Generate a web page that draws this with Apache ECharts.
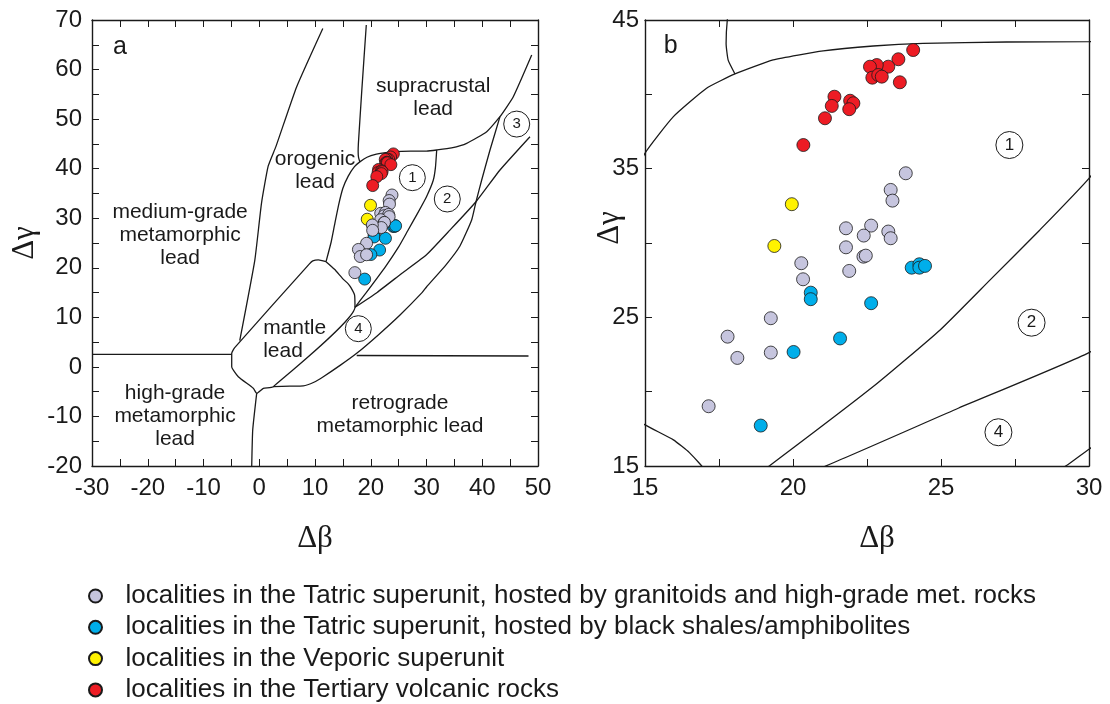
<!DOCTYPE html>
<html><head><meta charset="utf-8">
<script src="https://cdn.jsdelivr.net/npm/echarts@6/dist/echarts.min.js"></script>
<style>html,body{margin:0;padding:0;background:#fff}#c{width:1110px;height:704px}</style>
</head><body><div id="c"></div>
<script>
// ---------- data: sample points (Δβ, Δγ) ----------
const tatricGranitoids = [[23.81,34.69],[23.30,33.57],[23.36,32.85],[21.79,30.99],[22.64,31.17],[22.39,30.50],[23.22,30.77],[23.30,30.32],[21.79,29.71],[22.38,29.08],[22.46,29.15],[21.90,28.12],[20.28,28.64],[20.34,27.56],[19.25,24.94],[17.79,23.70],[18.12,22.27],[19.25,22.63],[17.15,19.02]];
const tatricShales = [[24.01,28.34],[24.27,28.57],[24.27,28.34],[24.46,28.46],[20.60,26.66],[20.60,26.22],[22.64,25.95],[21.59,23.58],[20.02,22.67],[18.91,17.72]];
const veporic = [[19.96,32.61],[19.37,29.80]];
const tertiaryVolcanic = [[24.06,42.98],[23.56,42.36],[23.22,41.86],[22.83,41.97],[22.60,41.86],[22.68,41.12],[22.88,41.30],[23.00,41.19],[23.61,40.81],[21.40,39.84],[21.31,39.22],[21.93,39.57],[22.04,39.40],[21.90,39.00],[21.08,38.39],[20.35,36.59]];

const seriesNames = [
  'localities in the Tatric superunit, hosted by granitoids and high-grade met. rocks',
  'localities in the Tatric superunit, hosted by black shales/amphibolites',
  'localities in the Veporic superunit',
  'localities in the Tertiary volcanic rocks'
];

// ---------- data: field boundaries of the discrimination diagram (Δβ, Δγ) ----------
const lineMediumOrogenic = [[11.4,68.3],[6.7,56.5],[3.0,44.5],[1.6,40.5],[0.4,33.0],[-0.8,21.5],[-3.5,5.3]];
const lineOrogenicSupracrustal = [[19.2,69.0],[18.4,55.9],[17.78,45.0],[17.74,43.4],[17.81,42.3],[18.04,41.37]];
const lineUpper = [[11.98,21.23],[12.9,25.2],[13.5,28.6],[14.2,32.5],[15.0,36.04],[15.96,38.5],[17.08,40.41],[18.04,41.37],[19.33,42.31],[21.02,42.92],[22.71,43.25],[24.4,43.43],[27.21,43.52],[30.0,43.54],[31.83,43.77],[34.5,44.2],[37.21,45.12],[40.8,47.46],[43.18,50.49],[45.57,54.52],[48.87,62.93]];
const mantleBox = [[11.98,21.23],[10.6,21.6],[9.6,21.4],[9.0,20.8],[-4.4,3.9],[-4.94,2.74],[-4.94,0.04],[-3.76,-1.98],[-1.07,-4.32],[-0.46,-5.33],[0.73,-4.32],[2.52,-4.0],[17.17,12.03],[17.1,14.5],[16.5,15.9],[15.96,16.76],[15.0,17.77],[13.5,19.7],[11.98,21.23]];
const lineLeftHorizontal = [[-30,2.54],[-4.94,2.54]];
const lineRightHorizontal = [[17.48,2.3],[48.3,2.2]];
const lineBottomVertical = [[-0.46,-5.33],[-1.17,-12.7],[-1.35,-20]];
const boundary12 = [[17.17,12.03],[19.22,15.03],[22.71,20.34],[24.97,24.15],[26.66,27.52],[28.34,30.88],[30.0,34.35],[31.2,37.6],[31.6,40.2],[31.83,43.77]];
const boundary24 = [[17.17,12.03],[21.14,15.03],[25.6,18.9],[30.0,22.63],[34.2,27.6],[38.88,33.33],[43.18,39.73],[48.56,46.45]];
const boundaryLower = [[2.52,-4.0],[5.5,-3.9],[7.9,-3.85],[9.8,-3.1],[11.49,-1.98],[14.5,0.3],[17.48,2.74],[21.3,6.4],[25.25,10.47],[29.24,15.03],[30.0,16.13],[33.5,20.6],[36.0,24.4],[38.1,29.64],[38.88,33.33],[39.9,37.71],[41.39,43.77],[43.18,50.49]];

// ---------- annotations ----------
const fieldLabelsA = [[31.2,54.4,'supracrustal\nlead'],[10.0,39.6,'orogenic\nlead'],[-14.2,26.5,'medium-grade\nmetamorphic\nlead'],[-15.1,-10.0,'high-grade\nmetamorphic\nlead'],[25.25,-9.6,'retrograde\nmetamorphic lead']];
const fieldLabelsALeft = [[0.7,5.5,'mantle\nlead']];
const circledA = [[27.46,38.18,'1'],[33.73,33.88,'2'],[46.18,49.0,'3'],[17.77,7.71,'4']];
const circledB = [[27.31,36.59,'1'],[28.06,24.64,'2'],[26.94,17.27,'4']];
const panelLetterA = [[-25.0,64.5,'a']];
const panelLetterB = [[15.87,43.25,'b']];

// ---------- axes ----------
const axisA = {xMin:-30, xMax:50, xInt:10, yMin:-20, yMax:70, yInt:10};
const axisB = {xMin:15, xMax:30, xInt:5, yMin:15, yMax:45, yInt:5};
const xTitle = 'Δβ', yTitle = 'Δγ';

const INK = '#1a1a1a';
const SANS = 'Liberation Sans, Arial, sans-serif';
const SERIF = 'Liberation Serif, Times New Roman, serif';
const colors = ['#c6c5de', '#00aeea', '#fff200', '#ed1c24'];

function axisCommon(pos, min, max, interval, showLabel, minorSplit, formatter) {
  return {
    type: 'value', position: pos, min, max, interval,
    axisLine: {show: true, onZero: false, lineStyle: {color: INK, width: 1.4}},
    axisTick: {show: true, inside: true, length: 7, lineStyle: {color: INK, width: 1}},
    minorTick: {show: minorSplit > 1, splitNumber: minorSplit || 1, length: 7, lineStyle: {color: INK, width: 1}},
    splitLine: {show: false},
    axisLabel: {show: showLabel, fontSize: 24, fontFamily: SANS, color: INK, margin: 10, formatter: formatter},
    nameMoveOverlap: false
  };
}

const xAxes = [
  Object.assign(axisCommon('bottom', axisA.xMin, axisA.xMax, axisA.xInt, true, 2), {gridIndex: 0, name: xTitle, nameLocation: 'middle', nameGap: 57, nameTextStyle: {fontFamily: SERIF, fontSize: 31, color: INK}}),
  Object.assign(axisCommon('top', axisA.xMin, axisA.xMax, axisA.xInt, false, 2), {gridIndex: 0}),
  Object.assign(axisCommon('bottom', axisB.xMin, axisB.xMax, axisB.xInt, true, 2), {gridIndex: 1, name: xTitle, nameLocation: 'middle', nameGap: 57, nameTextStyle: {fontFamily: SERIF, fontSize: 31, color: INK, padding: [0, 0, 0, 20]}}),
  Object.assign(axisCommon('top', axisB.xMin, axisB.xMax, axisB.xInt, false, 2), {gridIndex: 1})
];
const bYFormatter = v => ((v - axisB.yMin) % 10 === 0 ? String(v) : '');
const yAxes = [
  Object.assign(axisCommon('left', axisA.yMin, axisA.yMax, axisA.yInt, true, 2), {gridIndex: 0, name: yTitle, nameLocation: 'middle', nameGap: 52, nameTextStyle: {fontFamily: SERIF, fontSize: 31, color: INK}}),
  Object.assign(axisCommon('right', axisA.yMin, axisA.yMax, axisA.yInt, false, 2), {gridIndex: 0}),
  Object.assign(axisCommon('left', axisB.yMin, axisB.yMax, axisB.yInt, true, 0, bYFormatter), {gridIndex: 1, name: yTitle, nameLocation: 'middle', nameGap: 20, nameTextStyle: {fontFamily: SERIF, fontSize: 31, color: INK, padding: [0, 0, 0, 30]}}),
  Object.assign(axisCommon('right', axisB.yMin, axisB.yMax, axisB.yInt, false, 0), {gridIndex: 1})
];
yAxes[2].axisLabel.margin = 6;

const series = [];
const boundaries = [lineMediumOrogenic, lineOrogenicSupracrustal, lineUpper, mantleBox, lineLeftHorizontal, lineRightHorizontal, lineBottomVertical, boundary12, boundary24, boundaryLower];
[0, 2].forEach(ai => {
  boundaries.forEach(b => series.push({
    type: 'line', data: b, xAxisIndex: ai, yAxisIndex: ai, symbol: 'none', smooth: 0.15, clip: true,
    lineStyle: {color: INK, width: 1.3}, silent: true, z: 2
  }));
});

const groups = [
  {idx: 1, data: tatricShales},
  {idx: 2, data: veporic},
  {idx: 0, data: tatricGranitoids},
  {idx: 3, data: tertiaryVolcanic}
];
[[0, 12], [2, 13]].forEach(([ai, size]) => {
  groups.forEach(g => series.push({
    type: 'scatter', name: seriesNames[g.idx], data: g.data, xAxisIndex: ai, yAxisIndex: ai,
    symbol: 'circle', symbolSize: size,
    itemStyle: {color: colors[g.idx], borderColor: INK, borderWidth: 0.8, opacity: 1},
    emphasis: {disabled: true}, z: 5
  }));
});

function textSeries(data, ai, fontSize, align, lineHeight) {
  return {
    type: 'scatter', data: data, xAxisIndex: ai, yAxisIndex: ai, symbolSize: 1, silent: true,
    itemStyle: {color: 'rgba(255,255,255,0)', opacity: 1}, z: 4,
    label: {show: true, position: 'inside', align: align, formatter: p => p.value[2], fontSize: fontSize, lineHeight: lineHeight, fontFamily: SANS, color: INK, opacity: 1, textBorderWidth: 0}
  };
}
series.push(textSeries(fieldLabelsA, 0, 21, 'center', 23));
series.push(textSeries(fieldLabelsALeft, 0, 21, 'left', 23));
series.push(textSeries(panelLetterA, 0, 25, 'center', 26));
series.push(textSeries(panelLetterB, 2, 25, 'center', 26));

function circleSeries(data, ai, size, fontSize) {
  return {
    type: 'scatter', data: data, xAxisIndex: ai, yAxisIndex: ai, symbol: 'circle', symbolSize: size, silent: true,
    itemStyle: {color: '#ffffff', borderColor: INK, borderWidth: 1, opacity: 1}, z: 4,
    label: {show: true, position: 'inside', formatter: p => p.value[2], fontSize: fontSize, fontFamily: SANS, color: INK, opacity: 1, textBorderWidth: 0}
  };
}
series.push(circleSeries(circledA, 0, 26, 15));
series.push(circleSeries(circledB, 2, 27, 17));

const chart = echarts.init(document.getElementById('c'), null, {renderer: 'canvas'});
chart.setOption({
  animation: false,
  backgroundColor: '#ffffff',
  grid: [
    {left: 92, top: 20, width: 446, height: 446, outerBoundsMode: 'none'},
    {left: 645, top: 20, width: 444, height: 446, outerBoundsMode: 'none'}
  ],
  xAxis: xAxes,
  yAxis: yAxes,
  legend: {
    data: seriesNames, orient: 'vertical', left: 88, top: 583, height: 121, padding: 0,
    itemWidth: 50, itemHeight: 13, itemGap: 5.3,
    symbolKeepAspect: true, selectedMode: false,
    textStyle: {fontSize: 26, fontFamily: SANS, color: INK}
  },
  series: series
});
</script></body></html>
